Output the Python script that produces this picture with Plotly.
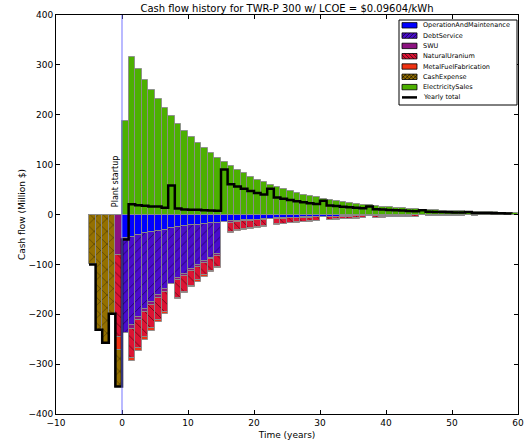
import plotly.graph_objects as go

# ---------------- data (million $, discounted) ----------------
years = list(range(-5, 60))

cash_expense = [-100, -231, -257, -199, -74] + [0] * 60

om = [0, 0, 0, 0, 0,
      -48, -44.4, -41.1, -38.0, -35.1, -32.5, -30.1, -27.8, -25.7, -23.8,
      -22.0, -20.3, -18.8, -17.4, -16.1, -14.9, -13.8, -12.8, -11.8, -10.9,
      -10.1, -9.3, -8.6, -8.0, -7.4, -6.8, -6.3, -5.8, -5.4, -5.0,
      -4.6, -4.3, -4.0, -3.7, -3.4, -3.1, -2.9, -2.7, -2.5, -2.3,
      -2.1, -2.0, -1.8, -1.7, -1.6, -1.4, -1.3, -1.2, -1.1, -1.1,
      -1.0, -0.9, -0.8, -0.8, -0.7, -0.7, -0.6, -0.6, -0.5, -0.5]

debt = [0, 0, 0, 0, 0,
        -190, -177, -164, -151, -140, -129, -120, -111, -102, -95,
        -88, -81, -75, -69, -64] + [0] * 45

swu = [0, 0, 0, 0, -81,
       0, -8.0, -7.4, -6.8, -6.3, -5.9, -5.4, 0, -4.6, -4.3,
       -4.0, -3.7, -3.4, -3.1, -2.9, 0, -2.5, -2.3, -2.1, -2.0,
       -1.8, -1.7, 0, -1.4, -1.3, -1.2, -1.1, -1.1, -1.0, -0.9,
       0, -0.8, -0.7, -0.7, -0.6, -0.6, -0.5, 0, -0.4, -0.4,
       -0.4, -0.4, -0.3, -0.3, -0.3, 0, -0.2, -0.2, -0.2, -0.2,
       -0.2, -0.2, 0, -0.1, -0.1, -0.1, -0.1, -0.1, -0.1, -0.1]

nat_u = [0, 0, 0, 0, -164,
         0, -59, -54.6, -50.5, -46.7, -43.2, -39.9, 0, -34.2, -31.6,
         -29.3, -27.0, -25.0, -23.1, -21.4, 0, -18.3, -16.9, -15.7, -14.5,
         -13.4, -12.4, 0, -10.6, -9.8, -9.1, -8.4, -7.8, -7.2, -6.7,
         0, -5.7, -5.3, -4.9, -4.5, -4.2, -3.8, 0, -3.3, -3.1,
         -2.8, -2.6, -2.4, -2.2, -2.1, 0, -1.8, -1.7, -1.5, -1.4,
         -1.3, -1.2, 0, -1.1, -0.9, -0.9, -0.8, -0.8, -0.7, -0.6]

metal_fab = [0, 0, 0, 0, -26,
             0, -6.0, -5.6, -5.1, -4.7, -4.4, -4.1, 0, -3.5, -3.2,
             -3.0, -2.7, -2.5, -2.4, -2.2, 0, -1.9, -1.7, -1.6, -1.5,
             -1.4, -1.3, 0, -1.1, -1.0, -0.9, -0.9, -0.8, -0.7, -0.7,
             0, -0.6, -0.5, -0.5, -0.5, -0.4, -0.4, 0, -0.3, -0.3,
             -0.3, -0.3, -0.2, -0.2, -0.2, 0, -0.2, -0.2, -0.2, -0.1,
             -0.1, -0.1, 0, -0.1, -0.1, -0.1, -0.1, -0.1, -0.1, -0.1]

electricity = [0, 0, 0, 0, 0,
               188, 315, 291, 269, 249, 231, 213, 197, 182, 168,
               156, 144, 133, 123, 114, 105, 97, 90, 83, 76,
               70, 65, 60, 55, 51, 47, 43.5, 40, 37, 34.5,
               32, 29.6, 27.4, 25.3, 23.4, 21.7, 20.0, 18.5, 17.1, 15.9,
               14.7, 13.6, 12.5, 11.6, 10.7, 9.9, 9.2, 8.5, 7.9, 7.3,
               6.7, 6.2, 5.8, 5.3, 4.9, 4.6, 4.2, 3.9, 3.6, 3.3]

series_names = ["OperationAndMaintenance", "DebtService", "SWU", "NaturalUranium",
                "MetalFuelFabrication", "CashExpense", "ElectricitySales"]
x_ticks = [-10, 0, 10, 20, 30, 40, 50, 60]
y_ticks = [-400, -300, -200, -100, 0, 100, 200, 300, 400]

# ---------------- styles ----------------
colors = {
    "OperationAndMaintenance": "#0000ff",
    "DebtService": "#4a0ccc",
    "SWU": "#8c1280",
    "NaturalUranium": "#dc1434",
    "MetalFuelFabrication": "#f03212",
    "CashExpense": "#947000",
    "ElectricitySales": "#4cb000",
}
hatches = {"DebtService": "/", "NaturalUranium": "\\", "CashExpense": "x"}
values = {
    "OperationAndMaintenance": om,
    "DebtService": debt,
    "SWU": swu,
    "NaturalUranium": nat_u,
    "MetalFuelFabrication": metal_fab,
    "CashExpense": cash_expense,
    "ElectricitySales": electricity,
}
EDGE = "rgba(140,140,140,0.9)"
FONT = "DejaVu Sans"

fig = go.Figure()
for name in series_names:
    marker = dict(color=colors[name], line=dict(color=EDGE, width=1))
    if name in hatches:
        marker["pattern"] = dict(shape=hatches[name], fgcolor="black", fgopacity=0.55,
                                 size=7 if name != "CashExpense" else 9, solidity=0.12)
    fig.add_trace(go.Bar(x=years, y=values[name], name=name, marker=marker,
                         offset=0, width=1, showlegend=False))

total = [sum(values[n][i] for n in series_names) for i in range(len(years))]
fig.add_trace(go.Scatter(x=years, y=total, mode="lines", name="Yearly total",
                         line=dict(color="black", width=2.5, shape="hv"), showlegend=False))

# plant startup line and label
fig.add_shape(type="line", x0=0, x1=0, y0=-400, y1=400, xref="x", yref="y",
              line=dict(color="rgba(110,110,255,0.8)", width=1.2))
fig.add_annotation(x=-1.05, y=65, xref="x", yref="y", text="Plant startup", showarrow=False,
                   textangle=-90, font=dict(family=FONT, size=8, color="black"))

# ---------------- custom legend (matplotlib-like) ----------------
L, R, T, B = 56, 518, 15, 414
def px(x):
    return (x - L) / (R - L)
def py(y):
    return (B - y) / (B - T)

fig.add_shape(type="rect", xref="paper", yref="paper", x0=px(399), x1=px(517), y0=py(20), y1=py(105),
              line=dict(color="black", width=1), fillcolor="white", layer="above")
row_y = [25.3, 35.6, 45.9, 56.2, 66.5, 76.8, 87.1, 97.4]
sx0, sx1 = 402, 417
for i, name in enumerate(series_names + ["Yearly total"]):
    yc = row_y[i]
    if name == "Yearly total":
        fig.add_shape(type="line", xref="paper", yref="paper", x0=px(sx0), x1=px(sx1),
                      y0=py(yc), y1=py(yc), line=dict(color="black", width=2.5), layer="above")
    else:
        y0, y1 = yc - 2.7, yc + 2.7
        fig.add_shape(type="rect", xref="paper", yref="paper", x0=px(sx0), x1=px(sx1),
                      y0=py(y1), y1=py(y0), fillcolor=colors[name],
                      line=dict(color="black", width=0.8), layer="above")
        h = hatches.get(name)
        if h:
            hh = y1 - y0
            dirs = []
            if h in ("/", "x"):
                dirs.append(1)
            if h in ("\\", "x"):
                dirs.append(-1)
            for d in dirs:
                k = -hh
                while k < (sx1 - sx0):
                    xa, xb = sx0 + k, sx0 + k + hh
                    ya, yb = (y1, y0) if d == 1 else (y0, y1)
                    if xa < sx0:
                        t = (sx0 - xa) / hh
                        ya = ya + (yb - ya) * t
                        xa = sx0
                    if xb > sx1:
                        t = (xb - sx1) / hh
                        yb = yb + (ya - yb) * t
                        xb = sx1
                    fig.add_shape(type="line", xref="paper", yref="paper", x0=px(xa), x1=px(xb),
                                  y0=py(ya), y1=py(yb), line=dict(color="black", width=0.6),
                                  layer="above")
                    k += 4
    fig.add_annotation(xref="paper", yref="paper", x=px(421), y=py(yc), text=name,
                       showarrow=False, xanchor="left", yanchor="middle",
                       font=dict(family=FONT, size=6.5, color="black"))

axis_common = dict(showline=True, linecolor="black", linewidth=1, mirror="ticks",
                   ticks="inside", ticklen=4, tickcolor="black", showgrid=False,
                   zeroline=False, automargin=False,
                   tickfont=dict(family=FONT, size=9, color="black"))

fig.update_layout(
    width=525, height=442,
    margin=dict(l=L, r=525 - R, t=T, b=442 - B),
    paper_bgcolor="white", plot_bgcolor="white",
    barmode="relative", bargap=0,
    title=dict(text="Cash flow history for TWR-P 300 w/ LCOE = $0.09604/kWh",
               x=0.5, xref="paper", y=1 - 8 / 442, yanchor="middle",
               font=dict(family=FONT, size=10, color="black")),
    xaxis=dict(range=[-10, 60], tickvals=x_ticks, title=dict(text="Time (years)", standoff=4,
               font=dict(family=FONT, size=9, color="black")), **axis_common),
    yaxis=dict(range=[-400, 400], tickvals=y_ticks, title=dict(text="Cash flow (Million $)", standoff=1,
               font=dict(family=FONT, size=9, color="black")), **axis_common),
    showlegend=False,
)

fig.write_html("out.html")
